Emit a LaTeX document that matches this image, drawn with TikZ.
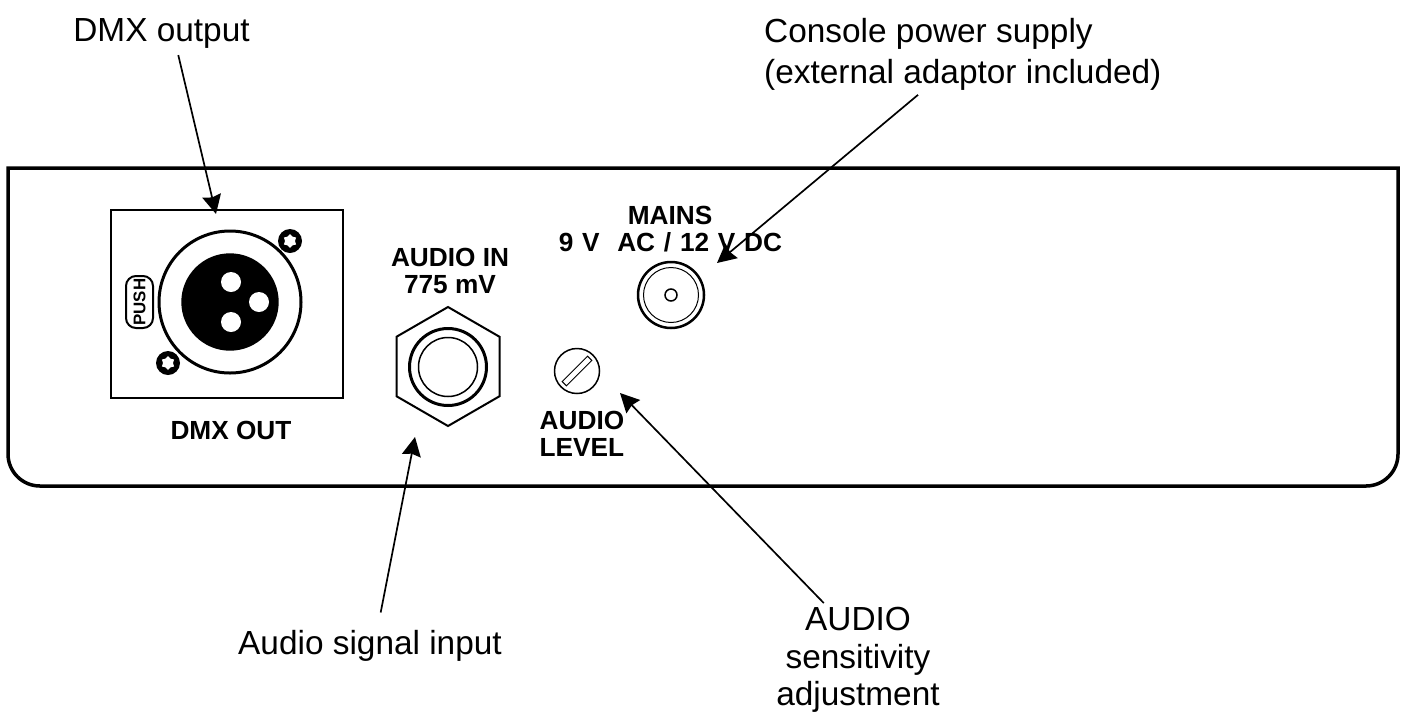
\documentclass[tikz,border=0pt]{standalone}
\usepackage{fontspec}
\setmainfont{Liberation Sans}
\usetikzlibrary{arrows.meta,shapes.geometric}
\tikzset{
	callout/.style={inner sep=1pt, font=\fontsize{9.5}{11.7}\selectfont},
	paneltext/.style={inner sep=0pt, font=\fontsize{7.46}{7.7}\selectfont\bfseries},
	pointer/.style={line width=0.17mm, -{Stealth[length=1.9mm, width=1.9mm, inset=0.2mm]}},
	screwstar/.style={star, star points=6, star point ratio=1.4, fill=white, inner sep=0pt, minimum size=1.4mm},
}

\begin{document}
\begin{tikzpicture}
	%%%%% START %%%%%
	\useasboundingbox (0, 0) rectangle (14.09, 7.12);

	\draw[line width=0.35mm] (0.08, 5.44) [rounded corners=0.32cm] -- (0.08, 2.26) -- (13.98, 2.26) -- (13.98, 3) [sharp corners] -- (13.98, 5.44) -- cycle;

	% dmx socket
	\draw[line width=0.2mm] (1.11, 3.14) rectangle (3.43, 5.02);
	\draw[line width=0.3mm] (2.30, 4.10) circle (0.71);
	\draw[fill=black, draw=none] (2.30, 4.10) circle (0.487);
	\draw[fill=white, draw=none] (2.31, 4.30) circle (0.1);
	\draw[fill=white, draw=none] (2.59, 4.10) circle (0.1);
	\draw[fill=white, draw=none] (2.31, 3.90) circle (0.1);

	\draw[fill=black, draw=none] (2.90, 4.71) circle (0.12);
	\node[screwstar] (screwtop) at (2.90, 4.71) {};
	\draw[fill=black, draw=none] (1.68, 3.49) circle (0.12);
	\node[screwstar] (screwbottom) at (1.68, 3.49) {};

	\draw[line width=0.2mm, rounded corners=0.1cm] (1.26, 3.84) rectangle (1.53, 4.36);
	\node[rotate=90, inner sep=0pt, font=\fontsize{4.8}{5}\selectfont\bfseries] (push) at (1.395, 4.10) {PUSH};

	\node[paneltext] (dmxout) at (2.31, 2.82) {DMX OUT};

	% audio jack
	\draw[line width=0.2mm] (4.48, 4.05) -- (4.995, 3.7525) -- (4.995, 3.1575) -- (4.48, 2.86) -- (3.965, 3.1575) -- (3.965, 3.7525) -- cycle;
	\draw[line width=0.3mm] (4.48, 3.45) circle (0.385);
	\draw[line width=0.15mm] (4.48, 3.45) circle (0.295);

	\node[paneltext, align=center] (audioin) at (4.50, 4.41) {AUDIO IN\\775 mV};

	% mains socket
	\draw[line width=0.25mm] (6.71, 4.17) circle (0.33);
	\draw[line width=0.1mm] (6.71, 4.17) circle (0.275);
	\draw[line width=0.15mm] (6.71, 4.17) circle (0.06);

	\node[paneltext] (mains) at (6.70, 4.97) {MAINS};
	\node[paneltext] (mainsvolt) at (6.705, 4.70) {\spaceskip=2.5pt 9 V\ \ AC / 12 V DC};

	% level trimmer
	\draw[line width=0.15mm] (5.77, 3.41) circle (0.225);
	\draw[line width=0.1mm, shift={(5.77, 3.41)}, rotate=45] (-0.18, -0.03) rectangle (0.18, 0.03);

	\node[paneltext, align=left, anchor=north west] (audiolevel) at (5.39, 3.02) {AUDIO\\LEVEL};

	% outside texts
	\node[callout] (dmxlabel) at (1.615, 6.79) {DMX output};
	\node[callout, align=left, anchor=west] (powerlabel) at (7.60, 6.575) {Console power supply\\(external adaptor included)};
	\node[callout] (inputlabel) at (3.70, 0.66) {Audio signal input};
	\node[callout, align=center, font=\fontsize{9.5}{10.7}\selectfont] (senslabel) at (8.58, 0.52) {AUDIO\\sensitivity\\adjustment};

	\coordinate (dmxtip) at (2.16, 4.98);
	\coordinate (powertip) at (7.17, 4.49);
	\coordinate (inputtip) at (4.15, 2.75);
	\coordinate (senstip) at (6.20, 3.19);

	\draw[pointer, shorten <=0.03cm] (dmxlabel.310) -- (dmxtip);
	\draw[pointer] (powerlabel.222) -- (powertip);
	\draw[pointer, shorten <=0.14cm] (inputlabel.68) -- (inputtip);
	\draw[pointer] (senslabel.121) -- (senstip);
	%%%%% END %%%%%
\end{tikzpicture}
\end{document}
